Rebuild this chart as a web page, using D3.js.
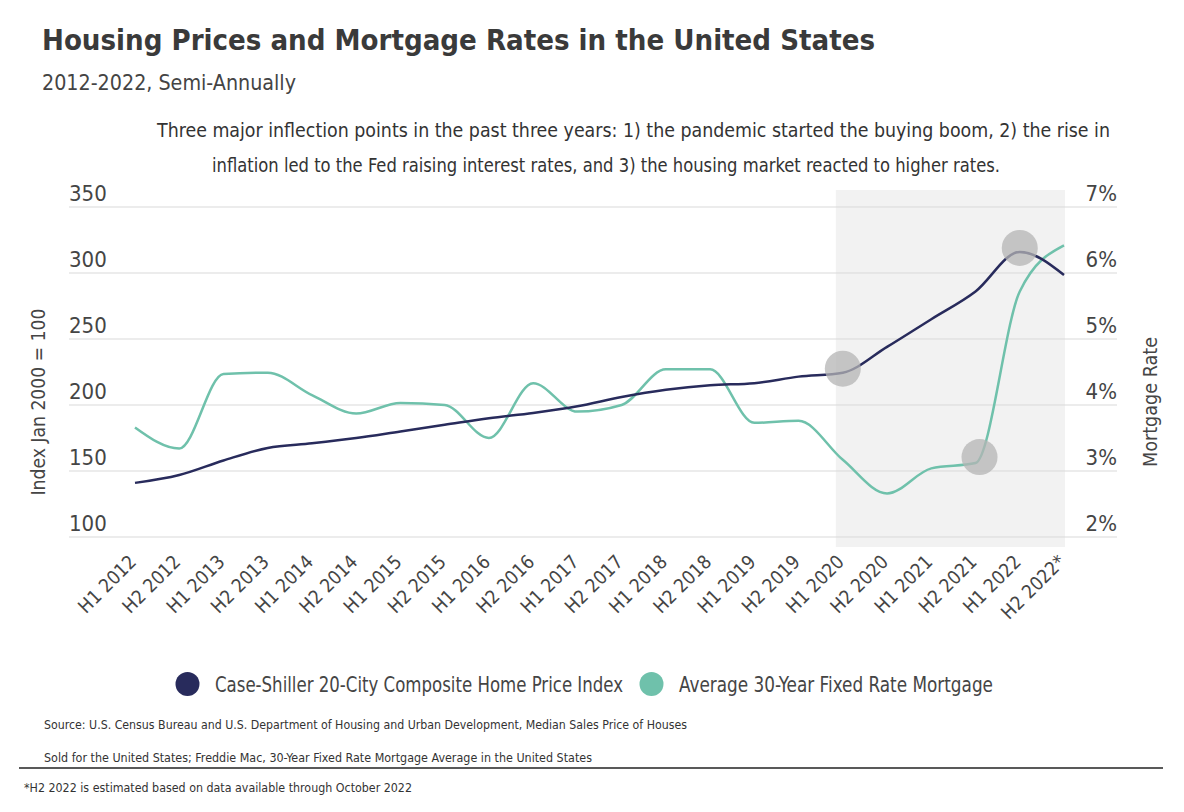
<!DOCTYPE html>
<html><head><meta charset="utf-8">
<script src="https://cdn.jsdelivr.net/npm/d3@7"></script>
<style>
body{margin:0;background:#fff;}
svg{display:block;}
text{font-family:"Liberation Sans Narrow","DejaVu Sans Condensed","Roboto Condensed",sans-serif;}
</style></head>
<body><svg id="c" width="1184" height="812"></svg>
<script>
const categories = ["H1 2012","H2 2012","H1 2013","H2 2013","H1 2014","H2 2014","H1 2015","H2 2015","H1 2016","H2 2016","H1 2017","H2 2017","H1 2018","H2 2018","H1 2019","H2 2019","H1 2020","H2 2020","H1 2021","H2 2021","H1 2022","H2 2022*"];
const priceIndex = [141,147,158,167.5,171,175,180,185,190,194,199,206,211.5,215,216.5,221.5,224.5,244,265,286,316,298.5];
const mortgageRate = [3.66,3.34,4.47,4.49,4.15,3.87,4.03,4.0,3.5,4.33,3.9,4.0,4.54,4.54,3.73,3.76,3.17,2.66,3.04,3.12,5.72,6.42];
const leftTicks = [100,150,200,250,300,350];
const rightTicks = [2,3,4,5,6,7];
const highlightPrice = ["H1 2020","H1 2022"];
const highlightRate = ["H2 2021"];
const shadeFrom = "H1 2020", shadeTo = "H2 2022*";

const svg = d3.select("#c");
const navy = "#282b5c", teal = "#6fc1ab", txt = "#454545";
const x = d3.scalePoint().domain(categories).range([135,1064]);
const yL = d3.scaleLinear().domain([100,350]).range([537,207]);
const yR = d3.scaleLinear().domain([2,7]).range([537,207]);
const gx0 = 69, gx1 = 1117;

function fitText(sel, len){ sel.attr("textLength",len).attr("lengthAdjust","spacingAndGlyphs"); return sel; }

// title etc
fitText(svg.append("text").attr("x",42).attr("y",50).attr("font-size",29).attr("font-weight","bold").attr("fill","#3a3a3a").text("Housing Prices and Mortgage Rates in the United States"),833);
fitText(svg.append("text").attr("x",42).attr("y",90).attr("font-size",22).attr("fill","#444").text("2012-2022, Semi-Annually"),254);
fitText(svg.append("text").attr("x",157).attr("y",137).attr("font-size",19).attr("fill","#333").text("Three major inflection points in the past three years: 1) the pandemic started the buying boom, 2) the rise in"),953);
fitText(svg.append("text").attr("x",212).attr("y",172).attr("font-size",19).attr("fill","#333").text("inflation led to the Fed raising interest rates, and 3) the housing market reacted to higher rates."),788);

// shaded region
svg.append("rect").attr("x",x(shadeFrom)-7).attr("y",190).attr("width",x(shadeTo)-x(shadeFrom)+8).attr("height",357).attr("fill","#f2f2f2");

// gridlines
svg.append("g").selectAll("line").data(leftTicks).join("line")
  .attr("x1",gx0).attr("x2",gx1).attr("y1",d=>yL(d)).attr("y2",d=>yL(d))
  .attr("stroke","#d9d9d9").attr("stroke-width",1);

// left axis labels
const axL = d3.axisLeft(yL).tickValues(leftTicks).tickSize(0).tickFormat(d3.format("d"));
const gL = svg.append("g").attr("transform",`translate(${gx0},0)`).call(axL);
gL.select(".domain").remove();
gL.selectAll("text").attr("text-anchor","start").attr("x",0).attr("dy",-7).attr("font-size",22).attr("fill",txt);
const axR = d3.axisRight(yR).tickValues(rightTicks).tickSize(0).tickFormat(d=>d+"%");
const gR = svg.append("g").attr("transform",`translate(${gx1},0)`).call(axR);
gR.select(".domain").remove();
gR.selectAll("text").attr("text-anchor","end").attr("x",0).attr("dy",-7).attr("font-size",22).attr("fill",txt);

// x axis labels
const axX = d3.axisBottom(x).tickSize(0);
const gX = svg.append("g").attr("transform","translate(0,548)").call(axX);
gX.select(".domain").remove();
gX.selectAll("text").attr("text-anchor","end").attr("font-size",19).attr("fill",txt)
  .attr("x",0).attr("y",0).attr("dy",0).attr("transform","translate(2,15) rotate(-45)");

// axis titles
fitText(svg.append("text").attr("transform","translate(45,402) rotate(-90)").attr("text-anchor","middle").attr("font-size",20).attr("fill",txt).text("Index Jan 2000 = 100"),187);
fitText(svg.append("text").attr("transform","translate(1157,402) rotate(-90)").attr("text-anchor","middle").attr("font-size",20).attr("fill",txt).text("Mortgage Rate"),130);

// lines
const lineP = d3.line().x((d,i)=>x(categories[i])).y(d=>yL(d)).curve(d3.curveMonotoneX);
const lineR = d3.line().x((d,i)=>x(categories[i])).y(d=>yR(d)).curve(d3.curveMonotoneX);
svg.append("path").attr("d",lineR(mortgageRate)).attr("fill","none").attr("stroke",teal).attr("stroke-width",2.5);
svg.append("path").attr("d",lineP(priceIndex)).attr("fill","none").attr("stroke",navy).attr("stroke-width",2.5);

// highlight circles
const hl = highlightPrice.map(c=>[x(c), yL(priceIndex[categories.indexOf(c)])-4])
  .concat(highlightRate.map(c=>[x(c)+4, yR(mortgageRate[categories.indexOf(c)])-6]));
svg.append("g").selectAll("circle").data(hl).join("circle")
  .attr("cx",d=>d[0]).attr("cy",d=>d[1]).attr("r",18).attr("fill","#b4b4b4").attr("opacity",0.75);

// legend
const legend = [["Case-Shiller 20-City Composite Home Price Index",navy,187.5,408],["Average 30-Year Fixed Rate Mortgage",teal,651.5,314]];
const lg = svg.append("g").selectAll("g").data(legend).join("g").attr("transform",d=>`translate(${d[2]},684)`);
lg.append("circle").attr("r",12).attr("fill",d=>d[1]);
lg.append("text").attr("x",27.5).attr("y",8).attr("font-size",21).attr("fill",txt).text(d=>d[0])
  .attr("textLength",d=>d[3]).attr("lengthAdjust","spacingAndGlyphs");

// source
fitText(svg.append("text").attr("x",44).attr("y",729).attr("font-size",13).attr("fill","#333").text("Source:  U.S. Census Bureau and U.S. Department of Housing and Urban Development, Median Sales Price of Houses"),643);
fitText(svg.append("text").attr("x",44).attr("y",762).attr("font-size",13).attr("fill","#333").text("Sold for the United States; Freddie Mac, 30-Year Fixed Rate Mortgage Average in the United States"),548);
svg.append("line").attr("x1",19).attr("x2",1163).attr("y1",768).attr("y2",768).attr("stroke","#222").attr("stroke-width",1.5);
fitText(svg.append("text").attr("x",24).attr("y",792).attr("font-size",13).attr("fill","#333").text("*H2 2022 is estimated based on data available through October 2022"),388);
</script></body></html>
